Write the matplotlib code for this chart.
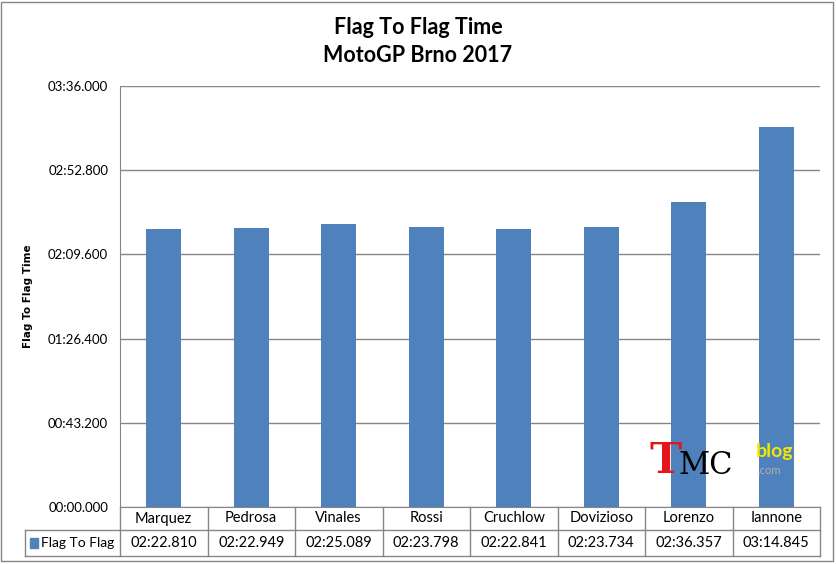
import matplotlib.pyplot as plt
from matplotlib.patches import Rectangle

# data (lap-to-finish times in seconds)
riders = ['Marquez', 'Pedrosa', 'Vinales', 'Rossi', 'Cruchlow', 'Dovizioso', 'Lorenzo', 'Iannone']
times = [142.810, 142.949, 145.089, 143.798, 142.841, 143.734, 156.357, 194.845]
y_ticks = [0, 43.2, 86.4, 129.6, 172.8, 216.0]
series_name = 'Flag To Flag'

bar_color = '#4F81BD'
grid_color = '#868686'
font = ['Lato', 'DejaVu Sans']
plt.rcParams['font.family'] = font


def fmt(sec):
    m = int(sec // 60)
    s = sec - m * 60
    return '%02d:%06.3f' % (m, s)


W, H = 836, 564
fig = plt.figure(figsize=(W / 100, H / 100), dpi=100)

# plot area in pixels
left, right, top, bottom = 120, 820, 86, 507
ax = fig.add_axes([left / W, 1 - bottom / H, (right - left) / W, (bottom - top) / H])

x = range(len(riders))
ax.bar(x, times, width=0.4, color=bar_color, zorder=3)
ax.set_xlim(-0.5, len(riders) - 0.5)
ax.set_ylim(0, 216)
ax.set_yticks(y_ticks)
ax.set_yticklabels([fmt(v) for v in y_ticks], fontsize=9.5)
ax.tick_params(axis='y', length=0, pad=8.5)
ax.set_xticks([])
ax.yaxis.grid(True, color=grid_color, linewidth=1, zorder=0)
for side in ['top', 'right']:
    ax.spines[side].set_visible(False)
for side in ['left', 'bottom']:
    ax.spines[side].set_color(grid_color)

# y axis label
fig.text(28 / W, 1 - 296 / H, 'Flag To Flag Time', rotation=90, ha='center', va='center',
         fontsize=7.5, fontweight='bold', family=['DejaVu Sans'])

# titles
fig.text(418 / W, 1 - 27 / H, 'Flag To Flag Time', ha='center', va='center', fontsize=15.5, fontweight='bold')
fig.text(418 / W, 1 - 56 / H, 'MotoGP Brno 2017', ha='center', va='center', fontsize=15.5, fontweight='bold')

# data table under the plot
def fx(px):
    return px / W


def fy(py):
    return 1 - py / H


row1_top, row1_bot, row2_bot = 507, 530, 556
col_w = (right - left) / len(riders)
lines = []
# horizontal lines
lines.append(([left, right], [row1_bot, row1_bot]))
lines.append(([25, left], [row1_bot, row1_bot]))
lines.append(([25, right], [row2_bot, row2_bot]))
# vertical lines
lines.append(([25, 25], [row1_bot, row2_bot]))
for i in range(len(riders) + 1):
    xp = left + i * col_w
    lines.append(([xp, xp], [row1_top, row2_bot]))
for xs, ys in lines:
    fig.add_artist(plt.Line2D([fx(v) for v in xs], [fy(v) for v in ys], color=grid_color, linewidth=1))

for i, (r, t) in enumerate(zip(riders, times)):
    xc = left + (i + 0.5) * col_w
    fig.text(fx(xc), fy((row1_top + row1_bot) / 2), r, ha='center', va='center', fontsize=10.5)
    fig.text(fx(xc), fy((row1_bot + row2_bot) / 2), fmt(t), ha='center', va='center', fontsize=10.5)

# legend key in table
fig.add_artist(Rectangle((fx(30), fy(548)), 8 / W, 10 / H, color=bar_color))
fig.text(fx(41), fy((row1_bot + row2_bot) / 2), series_name, ha='left', va='center', fontsize=10)

# outer chart border
fig.add_artist(Rectangle((1 / W, 3 / H), 832 / W, 559 / H, fill=False, edgecolor=grid_color, linewidth=1))

# blog logo (approximation)
fig.text(fx(649), fy(461), 'T', color='#e8141c', fontsize=31, fontweight='bold', family=['DejaVu Serif'], va='center')
fig.text(fx(679), fy(465), 'MC', color='black', fontsize=22, family=['DejaVu Serif'], va='center')
fig.text(fx(756), fy(452), 'blog', color='#f2e600', fontsize=14, fontweight='bold', va='center')
fig.text(fx(757), fy(471), '.com', color='#b0b0b0', fontsize=8, va='center')

fig.savefig('out.png', dpi=100)
